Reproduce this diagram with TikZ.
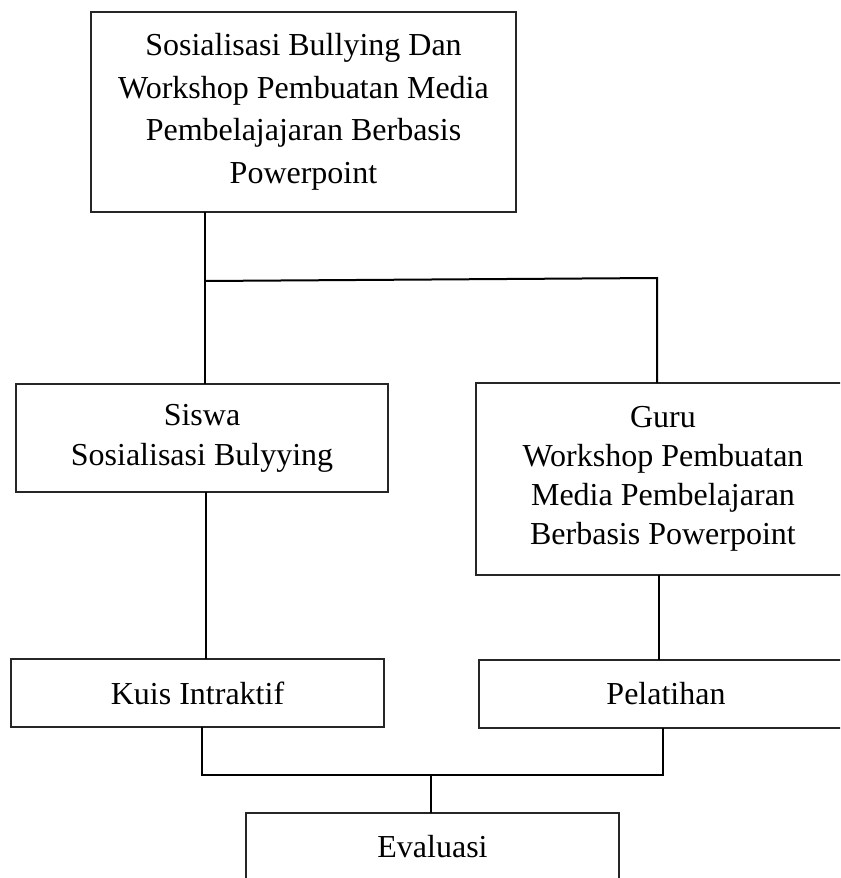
\documentclass[tikz,border=0pt]{standalone}
\usepackage{fontspec}
\setmainfont{Liberation Serif}
\begin{document}
\begin{tikzpicture}[x=0.75pt,y=-0.75pt,
  box/.style={draw=black!85,line width=1.1pt,rectangle,inner sep=0pt,outer sep=0pt,align=center,
    font=\fontsize{24}{30}\selectfont},
  conn/.style={draw=black,line width=1.5pt}]
\useasboundingbox (0,0) rectangle (840,878);
\fill[white] (0,0) rectangle (840,878);
\clip (0,0) rectangle (840,878);
\node[box,minimum width=318.75pt,minimum height=150pt,font=\fontsize{24}{31.9}\selectfont] (top) at (303.5,112)
  {Sosialisasi Bullying Dan\\Workshop Pembuatan Media\\Pembelajajaran Berbasis\\Powerpoint};
\node[box,minimum width=279pt,minimum height=81pt] (siswa) at (202,438)
  {Siswa\\Sosialisasi Bulyying};
\node[box,minimum width=280.5pt,minimum height=144pt,font=\fontsize{24}{29.25}\selectfont] (guru) at (663,479)
  {Guru\\Workshop Pembuatan\\Media Pembelajaran\\Berbasis Powerpoint};
\node[box,minimum width=279.75pt,minimum height=51pt] (kuis) at (197.5,693) {Kuis Intraktif};
\node[box,minimum width=280.5pt,minimum height=51pt] (pel) at (666,694) {Pelatihan};
\node[box,minimum width=279.75pt,minimum height=51pt] (eval) at (432.5,847) {Evaluasi};
\coordinate (j1) at (205,281);
\coordinate (j2) at (657,278);
\coordinate (c1) at (206,0);
\coordinate (c2) at (659,0);
\coordinate (j3) at (202,775);
\coordinate (j4) at (663,775);
\coordinate (j5) at (431,775);
\draw[conn] (j1 |- top.south) -- (j1 |- siswa.north);
\draw[conn] (j1) -- (j2) -- (j2 |- guru.north);
\draw[conn] (c1 |- siswa.south) -- (c1 |- kuis.north);
\draw[conn] (c2 |- guru.south) -- (c2 |- pel.north);
\draw[conn] (j3 |- kuis.south) -- (j3) -- (j4) -- (j4 |- pel.south);
\draw[conn] (j5) -- (j5 |- eval.north);
\end{tikzpicture}
\end{document}
